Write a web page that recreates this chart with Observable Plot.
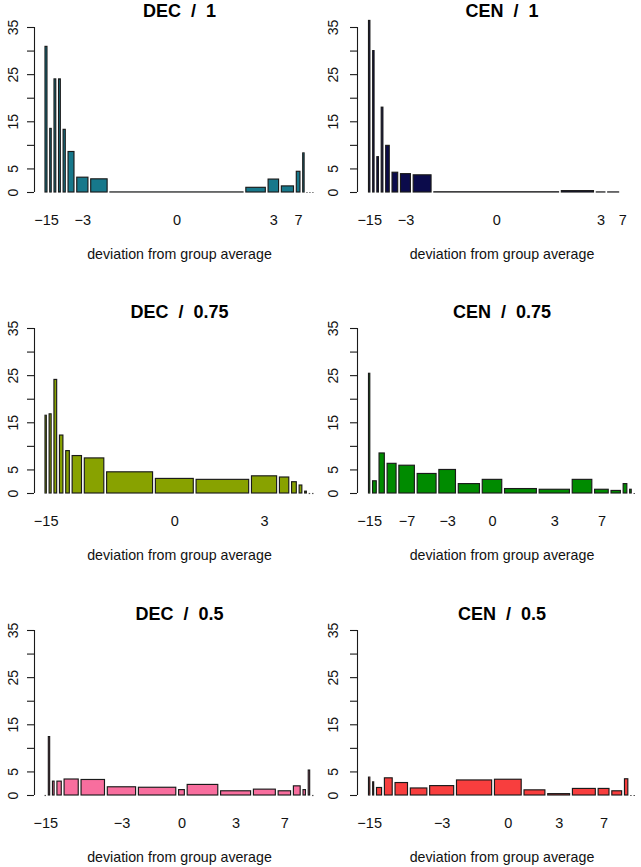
<!DOCTYPE html>
<html><head><meta charset="utf-8">
<script src="https://cdn.jsdelivr.net/npm/d3@7"></script>
<script src="https://cdn.jsdelivr.net/npm/@observablehq/plot@0.6"></script>
<style>
body{margin:0;background:#fff;}
#wrap{position:relative;width:641px;height:867px;overflow:hidden;background:#fff;}
#wrap > div{position:absolute;}
svg{font-family:"Liberation Sans",Arial,Helvetica,sans-serif;}
</style></head><body><div id="wrap"></div>
<script>
// ---- data ----
const panelTitles = ["DEC\u00a0\u00a0/\u00a0\u00a01", "CEN\u00a0\u00a0/\u00a0\u00a01", "DEC\u00a0\u00a0/\u00a0\u00a00.75", "CEN\u00a0\u00a0/\u00a0\u00a00.75", "DEC\u00a0\u00a0/\u00a0\u00a00.5", "CEN\u00a0\u00a0/\u00a0\u00a00.5"];
const barColors = ["#17788b", "#0b0b4b", "#88a200", "#008b00", "#f86e9e", "#f83e3e"];

const widthsDec1 = [3.0, 2.5, 2.8, 2.8, 3.2, 7.0, 12.3, 17.6, 135.6, 20.7, 11.6, 13.3, 4.7, 2.4, 1.2, 1.2, 1.2];
const countsDec1 = [31, 13.6, 24.1, 24.1, 13.4, 8.7, 3.25, 2.9, 0.12, 1.1, 2.85, 1.4, 4.5, 8.4, 0, 0, 0];

const widthsCen1 = [2.4, 2.4, 2.6, 2.7, 4.6, 6.7, 11.0, 19.0, 126.6, 33.4, 9.7, 12.0, 2.8, 2.4, 2.0, 1.6];
const countsCen1 = [36.5, 30.1, 7.6, 18.1, 10.0, 4.3, 4.0, 3.75, 0.15, 0.4, 0.12, 0.12, 0.08, 0.08, 0.06, 0.06];

const widthsDec075 = [2.3, 3.0, 3.7, 4.4, 4.6, 10.3, 20.4, 46.7, 38.7, 53.3, 26.0, 10.3, 5.7, 3.7, 2.7, 1.5, 1.5];
const countsDec075 = [16.6, 16.9, 24.2, 12.4, 9.1, 8.05, 7.55, 4.6, 3.2, 3.0, 3.75, 3.5, 2.5, 1.8, 0.5, 0, 0];

const widthsCen075 = [2.3, 4.7, 6.3, 10.0, 16.6, 20.0, 17.7, 22.3, 20.6, 33.0, 31.4, 20.7, 14.7, 10.4, 4.7, 2.6, 1.5];
const countsCen075 = [25.5, 2.7, 8.6, 6.4, 6.0, 4.25, 5.1, 2.1, 3.0, 1.05, 0.9, 3.0, 0.9, 0.65, 2.1, 0.9, 0];

const widthsDec05 = [1.5, 2.3, 2.6, 5.3, 15.0, 24.2, 29.0, 38.0, 6.7, 31.3, 30.7, 22.7, 13.3, 7.7, 3.4, 2.4, 1.5];
const countsDec05 = [0, 12.5, 3.05, 3.05, 3.5, 3.4, 1.85, 1.75, 1.25, 2.35, 1.0, 1.35, 1.0, 2.05, 1.25, 5.4, 0];

const widthsCen05 = [2.3, 2.0, 6.0, 8.7, 13.3, 17.3, 24.7, 35.7, 27.4, 21.6, 22.6, 23.6, 11.7, 10.7, 4.3, 1.5, 1.5];
const countsCen05 = [3.9, 2.9, 1.7, 3.75, 2.75, 1.6, 2.1, 3.3, 3.45, 1.2, 0.4, 1.5, 1.5, 1.0, 3.55, 0, 0];

// x tick labels sit under the bar with the given index
const tickLabels = ["\u221215", "\u22127", "\u22123", "0", "3", "7"];
const tickBars = [0, 4, 6, 8, 10, 12];
const shownDec1 = ["\u221215", "\u22123", "0", "3", "7"];
const shownCen1 = ["\u221215", "\u22123", "0", "3", "7"];
const shownDec075 = ["\u221215", "0", "3"];
const shownCen075 = ["\u221215", "\u22127", "\u22123", "0", "3", "7"];
const shownDec05 = ["\u221215", "\u22123", "0", "3", "7"];
const shownCen05 = ["\u221215", "\u22123", "0", "3", "7"];

const yTicks = [0, 5, 10, 15, 20, 25, 30, 35];
const yLabels = [0, 5, 15, 25, 35];
const xTitle = "deviation from group average";

// ---- build ----
const widths = [widthsDec1, widthsCen1, widthsDec075, widthsCen075, widthsDec05, widthsCen05];
const counts = [countsDec1, countsCen1, countsDec075, countsCen075, countsDec05, countsCen05];
const shown = [shownDec1, shownCen1, shownDec075, shownCen075, shownDec05, shownCen05];
const gap = 1.8;
const rowTops = [0, 301, 603];
const cols = [
  {left: 0, w: 320, axis: 34, start: 44.5, end: 313.5, label: 13},
  {left: 320, w: 321, axis: 37, start: 48, end: 315, label: 13}
];
const ink = "#1a1a1a";
const wrap = document.getElementById("wrap");

for (let i = 0; i < 6; i++) {
  const L = cols[i % 2];
  const top = rowTops[Math.floor(i / 2)];
  let acc = 0;
  const bars = widths[i].map((w, k) => {
    const x1 = acc; acc += w + gap;
    return {x1, x2: x1 + w, h: counts[i][k]};
  });
  const total = bars[bars.length - 1].x2;
  const pad = total * (L.start - L.axis) / (L.end - L.start);
  const unitsPerPx = (total + pad) / (L.end - L.axis);
  const ticks = tickBars.map((b, k) => ({x: (bars[b].x1 + bars[b].x2) / 2, label: tickLabels[k]}))
    .filter(t => shown[i].includes(t.label));
  const centerShift = (L.start - L.axis) / 2;

  const plot = Plot.plot({
    width: L.w, height: 270,
    marginTop: 27, marginBottom: 78, marginLeft: L.axis, marginRight: L.w - L.end,
    style: {background: "transparent", overflow: "visible", fontFamily: "'Liberation Sans', Arial, sans-serif"},
    x: {domain: [-pad, total], axis: null},
    y: {domain: [0, 35], axis: null},
    marks: [
      Plot.ruleX([-pad], {y1: 0, y2: 35, stroke: ink, strokeWidth: 1.1}),
      Plot.ruleY(yTicks, {y: d => d, x1: -pad - 7 * unitsPerPx, x2: -pad, stroke: ink, strokeWidth: 1.1}),
      Plot.text(yLabels, {frameAnchor: "left", y: d => d, text: d => String(d), rotate: -90,
        dx: L.label - L.axis, fontSize: 14, textAnchor: "middle", lineAnchor: "middle", fill: "#111"}),
      Plot.rect(bars.filter(b => b.h > 0), {x1: "x1", x2: "x2", y1: 0, y2: "h",
        insetLeft: 0.5, insetRight: 0.5, insetTop: 0.5,
        fill: barColors[i], stroke: ink, strokeWidth: 1.15}),
      Plot.ruleY(bars.filter(b => b.h === 0), {y: 0, x1: "x1", x2: "x2", stroke: "#555", strokeWidth: 1.2}),
      Plot.text(ticks, {x: "x", y: 0, text: "label", dy: 28, fontSize: 14.5, lineAnchor: "middle", fill: "#111"}),
      Plot.text([panelTitles[i]], {frameAnchor: "top", dx: centerShift, dy: -16, fontSize: 18,
        fontWeight: "bold", lineAnchor: "middle", fill: "#000"}),
      Plot.text([xTitle], {frameAnchor: "bottom", dx: centerShift, dy: 61.5, fontSize: 14.2,
        lineAnchor: "middle", fill: "#111"})
    ]
  });
  const holder = document.createElement("div");
  holder.style.left = L.left + "px";
  holder.style.top = top + "px";
  holder.appendChild(plot);
  wrap.appendChild(holder);
}
</script>
</body></html>
